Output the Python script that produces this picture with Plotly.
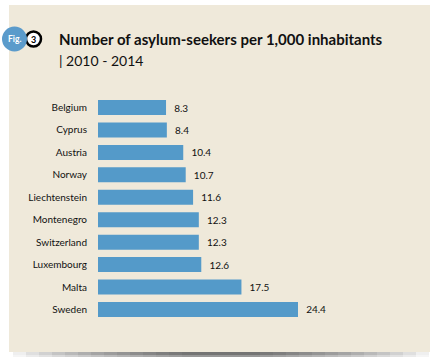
import plotly.graph_objects as go

countries = ["Belgium", "Cyprus", "Austria", "Norway", "Liechtenstein", "Montenegro",
             "Switzerland", "Luxembourg", "Malta", "Sweden"]
values = [8.3, 8.4, 10.4, 10.7, 11.6, 12.3, 12.3, 12.6, 17.5, 24.4]
title_text = "Number of asylum-seekers per 1,000 inhabitants"
subtitle_text = "| 2010 - 2014"

W, H = 436, 357
def px(x):
    return x / W
def py(y):
    return 1 - y / H

FONT = "Lato"
BAR = "#549AC9"
BEIGE = "#EFE9DA"

fig = go.Figure()
fig.add_trace(go.Bar(
    y=countries, x=values, orientation="h",
    marker=dict(color=BAR, line=dict(width=0)),
    width=0.67,
    text=[f"{v:.1f}" for v in values],
    textposition="outside",
    texttemplate="  %{text}",
    textfont=dict(family=FONT, size=10, color="#111111"),
    cliponaxis=False,
    hoverinfo="skip",
))

x0 = 98
ppu = 200 / 24.4
xr = 30
fig.update_xaxes(range=[0, xr], domain=[px(x0), px(x0 + ppu * xr)],
                 visible=False, fixedrange=True)
fig.update_yaxes(autorange="reversed", domain=[py(320.7), py(96.3)],
                 showgrid=False, zeroline=False, showline=False, ticks="",
                 ticklabelstandoff=10, fixedrange=True,
                 tickfont=dict(family=FONT, size=10, color="#111111"))

shapes = []
# soft shadow under the panel (nested translucent strips)
n = 14
for i in range(n):
    half = 208 - i * 13
    shapes.append(dict(type="rect", xref="paper", yref="paper",
                       x0=px(221 - half), x1=px(221 + half),
                       y0=py(357), y1=py(351), fillcolor="#4a4a4a", opacity=0.055,
                       line=dict(width=0), layer="below"))
    shapes.append(dict(type="rect", xref="paper", yref="paper",
                       x0=px(221 - half), x1=px(221 + half),
                       y0=py(355), y1=py(351), fillcolor="#4a4a4a", opacity=0.03,
                       line=dict(width=0), layer="below"))
# panel
shapes.append(dict(type="rect", xref="paper", yref="paper", x0=px(9), x1=px(430),
                   y0=py(352), y1=py(5), fillcolor=BEIGE, line=dict(width=0), layer="below"))
# badge circles
shapes.append(dict(type="circle", xref="paper", yref="paper", x0=px(26), x1=px(41),
                   y0=py(46.5), y1=py(31.5), fillcolor="#FFFFFF",
                   line=dict(color="#000000", width=2.5), layer="above"))
shapes.append(dict(type="circle", xref="paper", yref="paper", x0=px(2), x1=px(27),
                   y0=py(51.5), y1=py(26.5), fillcolor="#5B9BCB",
                   line=dict(width=0), layer="above"))

annotations = [
    dict(text="<b>" + title_text + "</b>", xref="paper", yref="paper", x=px(57), y=py(39),
         xanchor="left", yanchor="middle", showarrow=False,
         font=dict(family=FONT, size=15, color="#111111")),
    dict(text=subtitle_text, xref="paper", yref="paper", x=px(57), y=py(60),
         xanchor="left", yanchor="middle", showarrow=False,
         font=dict(family=FONT, size=14, color="#111111")),
    dict(text="<b>Fig.</b>", xref="paper", yref="paper", x=px(14.5), y=py(39),
         xanchor="center", yanchor="middle", showarrow=False,
         font=dict(family=FONT, size=8.5, color="#FFFFFF")),
    dict(text="<b>3</b>", xref="paper", yref="paper", x=px(33.5), y=py(39),
         xanchor="center", yanchor="middle", showarrow=False,
         font=dict(family=FONT, size=9, color="#000000")),
]

fig.update_layout(
    width=W, height=H, margin=dict(l=0, r=0, t=0, b=0),
    paper_bgcolor="#FFFFFF", plot_bgcolor="rgba(0,0,0,0)",
    showlegend=False, shapes=shapes, annotations=annotations,
    bargap=0.33,
)
fig.write_html("out.html", config={"displayModeBar": False},
               post_script="document.body.style.margin='0px';document.body.style.overflow='hidden';")
